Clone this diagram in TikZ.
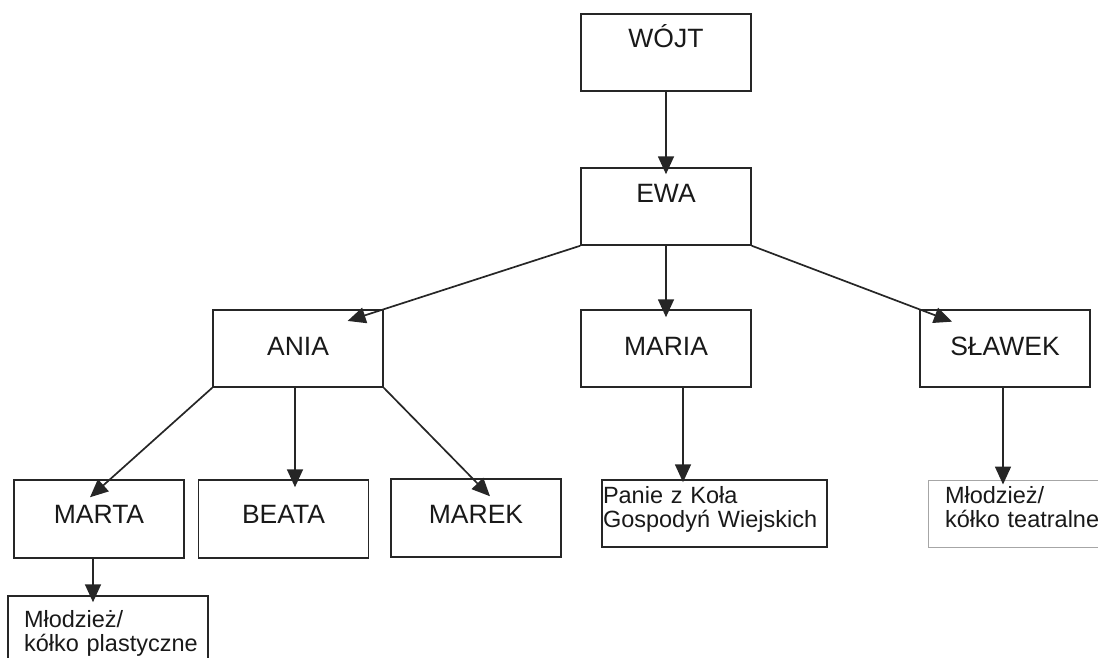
\documentclass[tikz,border=0pt]{standalone}
\usepackage{fontspec}
\setmainfont{Liberation Sans}
\usetikzlibrary{arrows.meta}
\begin{document}
\begin{tikzpicture}[x=1pt,y=-1pt,
  box/.style={draw=black!85, line width=1.5pt, inner sep=0pt,
    minimum width=170pt, minimum height=77pt,
    font=\fontsize{26.5pt}{31pt}\selectfont, text=black!90},
  note/.style={box, minimum width=0pt, align=left,
    font=\fontsize{23.5pt}{24.5pt}\selectfont},
  link/.style={draw=black!85, line width=1.7pt,
    -{Triangle[length=18pt,width=16pt]}},
]
\useasboundingbox (0,0) rectangle (1098,657);

% top of the hierarchy
\node[box, text height=18pt, text depth=29pt] (wojt) at (666,52.5) {WÓJT};
\node[box, text height=18pt, text depth=27pt] (ewa)  at (666,206.5) {EWA};

% second level
\node[box, text height=18pt, text depth=5pt] (ania)   at (298,348.5)  {ANIA};
\node[box, text height=18pt, text depth=5pt] (maria)  at (666,348.5)  {MARIA};
\node[box, text height=18pt, text depth=5pt] (slawek) at (1005,348.5) {SŁAWEK};

% third level
\node[box, minimum height=78pt, text height=18pt, text depth=10pt] (marta) at (99,519)    {MARTA};
\node[box, minimum height=78pt, text height=18pt, text depth=10pt] (beata) at (283.5,519) {BEATA};
\node[box, minimum height=78pt, text height=18pt, text depth=8pt]  (marek) at (476,518)   {MAREK};

% groups
\node[note, minimum width=225pt, minimum height=67pt, text width=223pt,
      text height=20pt, text depth=41pt] (panie) at (714.5,513.5)
      {\mbox{Panie z Koła}\\\mbox{Gospodyń Wiejskich}};
\node[note, draw=black!35, line width=1pt, minimum width=200pt, minimum height=67pt,
      text width=166pt, text height=20pt, text depth=41pt] (teatr) at (1028,513.5)
      {\mbox{Młodzież/}\\\mbox{kółko teatralne}};
\node[note, minimum width=200pt, minimum height=80pt, text width=168pt,
      text height=20pt, text depth=38pt] (plast) at (108,636)
      {\mbox{Młodzież/}\\\mbox{kółko plastyczne}};

% connectors
\draw[link, shorten >=-7pt] (wojt.south) -- (ewa.north);
\draw[link, shorten >=-38pt] (ewa.south west) -- (ania.north east);
\draw[link, shorten >=-8pt] (ewa.south) -- (maria.north);
\draw[link, shorten >=-35pt] (ewa.south east) -- (slawek.north west);

\draw[link] (ania.south west) -- ([xshift=-9pt,yshift=-18pt]marta.north);
\draw[link, shorten >=-8pt] ([xshift=-3pt]ania.south) -- ([xshift=-3pt]ania.south |- beata.north);
\draw[link] (ania.south east) -- ([xshift=14pt,yshift=-18pt]marek.north);

\draw[link, shorten >=-3pt] ([xshift=17pt]maria.south) -- ([xshift=17pt]maria.south |- panie.north);
\draw[link, shorten >=-5pt] ([xshift=-2pt]slawek.south) -- ([xshift=-2pt]slawek.south |- teatr.north);
\draw[link, shorten >=-7pt] ([xshift=-6pt]marta.south) -- ([xshift=-6pt]marta.south |- plast.north);
\end{tikzpicture}
\end{document}
